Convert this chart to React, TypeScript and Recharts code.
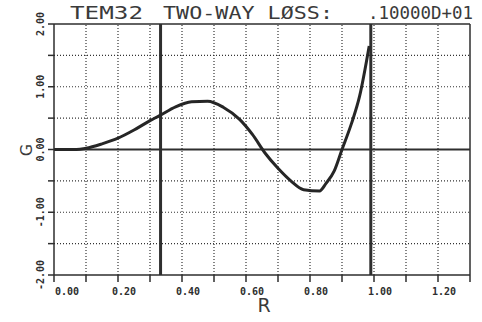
import React from 'react';
import { LineChart, Line, XAxis, YAxis, ReferenceLine } from 'recharts';

// R values along the curve and the matching G values
const rValues = [0, 0.07, 0.1, 0.15, 0.2, 0.25, 0.3, 0.33, 0.38, 0.43, 0.48, 0.53, 0.58, 0.62, 0.66, 0.7, 0.74, 0.78, 0.83, 0.85, 0.875, 0.9, 0.93, 0.955, 0.985];
const gValues = [0, 0, 0.02, 0.09, 0.18, 0.31, 0.46, 0.54, 0.68, 0.76, 0.77, 0.67, 0.48, 0.24, -0.06, -0.3, -0.5, -0.64, -0.66, -0.54, -0.35, 0, 0.42, 0.85, 1.65];

const xTicks = [0, 0.1, 0.2, 0.3, 0.4, 0.5, 0.6, 0.7, 0.8, 0.9, 1.0, 1.1, 1.2, 1.3];
const xLabelTicks = [0, 0.2, 0.4, 0.6, 0.8, 1.0, 1.2];
const yTicks = [-2, -1.5, -1, -0.5, 0, 0.5, 1, 1.5, 2];
const yLabelTicks = [-2, -1, 0, 1, 2];

// thick vertical markers
const markers = [0.333, 0.99];

const title = ['TEM32', 'TWO-WAY LØSS:', '.10000D+01'];

const data = rValues.map((r, i) => ({ r, g: gValues[i] }));

const ink = '#2e2e2e';
const tickFont = { fontFamily: '"DejaVu Sans Mono", monospace', fontWeight: 700, fontSize: 10 };

const isLabel = (list: number[], v: number) => list.some(t => Math.abs(t - v) < 1e-6);

function XTick(props: any) {
  const { x, y, payload, index } = props;
  const v = payload.value as number;
  return (
    <g>
      <line x1={x} y1={y} x2={x} y2={y + 7} stroke={ink} strokeWidth={1.5} />
      {isLabel(xLabelTicks, v) && (
        <text x={index === 0 ? x + 1 : x - 6} y={y + 20} textAnchor="start" fill={ink} {...tickFont}>
          {v.toFixed(2)}
        </text>
      )}
    </g>
  );
}

function YTick(props: any) {
  const { x, y, payload } = props;
  const v = payload.value as number;
  return (
    <g>
      <line x1={x - 6} y1={y} x2={x} y2={y} stroke={ink} strokeWidth={1.5} />
      {isLabel(yLabelTicks, v) && (
        <text x={x - 10} y={y} textAnchor="middle" transform={`rotate(-90, ${x - 10}, ${y})`} fill={ink} {...tickFont}>
          {v.toFixed(2)}
        </text>
      )}
    </g>
  );
}

export default function App() {
  return (
    <div style={{ position: 'absolute', left: 0, top: 0, width: 482, height: 322, background: '#fff' }}>
      <LineChart width={482} height={322} data={data} margin={{ top: 24, right: 12, bottom: 0, left: 0 }}>
        <XAxis
          type="number"
          dataKey="r"
          domain={[0, 1.3]}
          ticks={xTicks}
          interval={0}
          height={47}
          tickSize={0}
          tickMargin={0}
          tickLine={false}
          tick={<XTick />}
          axisLine={{ stroke: ink, strokeWidth: 1.5 }}
        />
        <YAxis
          type="number"
          domain={[-2, 2]}
          ticks={yTicks}
          interval={0}
          width={54}
          tickSize={0}
          tickMargin={0}
          tickLine={false}
          tick={<YTick />}
          axisLine={{ stroke: ink, strokeWidth: 1.5 }}
        />
        {/* dotted grid */}
        {xTicks.slice(1, -1).map(t => (
          <ReferenceLine key={`gx${t}`} x={t} stroke="#333" strokeWidth={1.2} strokeDasharray="1 2" />
        ))}
        {yTicks.slice(1, -1).map(t => (
          <ReferenceLine key={`gy${t}`} y={t} stroke="#333" strokeWidth={1.2} strokeDasharray="1 2" />
        ))}
        <ReferenceLine y={2} stroke={ink} strokeWidth={1.5} />
        <ReferenceLine x={1.3} stroke={ink} strokeWidth={1.5} />
        <ReferenceLine y={0} stroke={ink} strokeWidth={2} />
        {markers.map(m => (
          <ReferenceLine key={m} x={m} stroke={ink} strokeWidth={3} />
        ))}
        <Line type="monotone" dataKey="g" stroke="#262626" strokeWidth={3} dot={false} isAnimationActive={false} />
      </LineChart>
      <svg width={482} height={322} style={{ position: 'absolute', left: 0, top: 0, pointerEvents: 'none' }}>
        <g fill="#3a3a3a" fontFamily='"DejaVu Sans Mono", monospace' fontSize={18}>
          <text x={70} y={18.5} textLength={73} lengthAdjust="spacingAndGlyphs">{title[0]}</text>
          <text x={163} y={18.5} textLength={170} lengthAdjust="spacingAndGlyphs">{title[1]}</text>
          <text x={368} y={18.5} textLength={105} lengthAdjust="spacingAndGlyphs">{title[2]}</text>
        </g>
        <text x={264} y={312} textAnchor="middle" fill="#3a3a3a" fontFamily='"DejaVu Sans", sans-serif' fontSize={19}>R</text>
        <text x={32} y={150} textAnchor="middle" transform="rotate(-90, 32, 150)" fill="#3a3a3a" fontFamily='"DejaVu Sans", sans-serif' fontSize={16}>G</text>
      </svg>
    </div>
  );
}
